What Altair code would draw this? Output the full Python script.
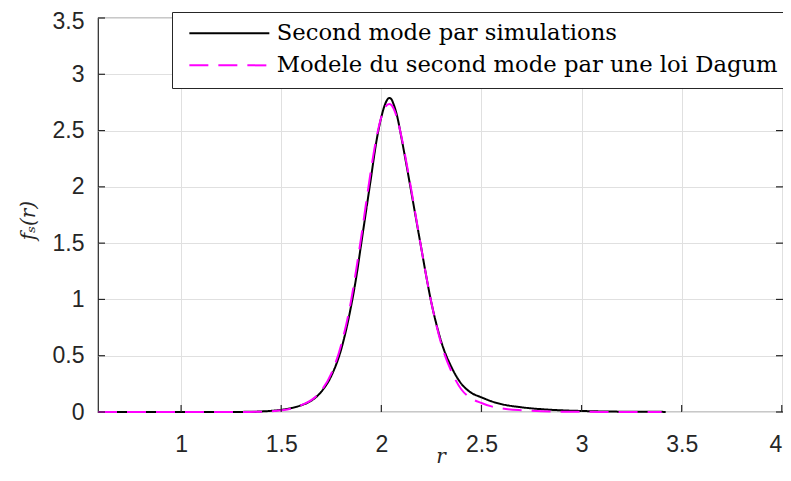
import altair as alt
import pandas as pd

# ---- data ----
label_sim = "Second mode par simulations"
label_dag = "Modele du second mode par une loi Dagum"

r_sim = [0.585, 1.0, 1.3, 1.4, 1.5, 1.55, 1.6, 1.65, 1.7, 1.75, 1.8, 1.85, 1.875, 1.9,
         1.925, 1.95, 1.975, 2.0, 2.02, 2.04, 2.05, 2.06, 2.08, 2.1, 2.125, 2.15, 2.175,
         2.2, 2.225, 2.25, 2.275, 2.3, 2.35, 2.4, 2.45, 2.5, 2.55, 2.6, 2.7, 2.8, 2.9,
         3.0, 3.1, 3.2, 3.3, 3.42]
f_sim = [0.0, 0.0, 0.001, 0.005, 0.02, 0.035, 0.06, 0.10, 0.18, 0.32, 0.56, 0.95, 1.2, 1.5,
         1.8, 2.1, 2.4, 2.62, 2.74, 2.79, 2.78, 2.74, 2.62, 2.44, 2.2, 1.95, 1.7,
         1.45, 1.2, 0.97, 0.78, 0.62, 0.40, 0.25, 0.17, 0.13, 0.095, 0.07, 0.042, 0.025, 0.015,
         0.009, 0.005, 0.003, 0.002, 0.001]

r_dag = [0.585, 1.0, 1.3, 1.4, 1.5, 1.55, 1.6, 1.65, 1.7, 1.75, 1.8, 1.85, 1.875, 1.9,
         1.925, 1.95, 1.975, 2.0, 2.02, 2.04, 2.06, 2.08, 2.1, 2.125, 2.15, 2.175,
         2.2, 2.225, 2.25, 2.275, 2.3, 2.35, 2.4, 2.45, 2.5, 2.55, 2.6, 2.7, 2.8, 2.9,
         3.0, 3.2, 3.4]
f_dag = [0.0, 0.0, 0.0, 0.003, 0.015, 0.03, 0.06, 0.105, 0.19, 0.34, 0.6, 1.0, 1.27, 1.56,
         1.87, 2.17, 2.43, 2.62, 2.71, 2.735, 2.70, 2.60, 2.45, 2.22, 1.97, 1.71,
         1.45, 1.2, 0.97, 0.77, 0.60, 0.36, 0.2, 0.12, 0.08, 0.05, 0.032, 0.015, 0.007, 0.003,
         0.0015, 0.0005, 0.0]

x_ticks = [1, 1.5, 2, 2.5, 3, 3.5, 4]
y_ticks = [0, 0.5, 1, 1.5, 2, 2.5, 3, 3.5]
x_domain = [0.585, 4.006]
y_domain = [0, 3.5]

# ---- chart ----
W, H = 685, 394
AX = "#262626"

sim_df = pd.DataFrame({"r": r_sim, "f": f_sim, "serie": label_sim})
dag_df = pd.DataFrame({"r": r_dag, "f": f_dag, "serie": label_dag})
xt_df = pd.DataFrame({"v": x_ticks})
yt_df = pd.DataFrame({"v": y_ticks})

xs = alt.Scale(domain=x_domain, nice=False, zero=False)
ys = alt.Scale(domain=y_domain, nice=False, zero=False)
cs = alt.Scale(domain=[label_sim, label_dag], range=["#000000", "#ff00ff"])
ds = alt.Scale(domain=[label_sim, label_dag], range=[[1, 0], [19, 10]])

legend = alt.Legend(
    title=None, orient="none", legendX=74, legendY=-6,
    symbolType="M-1,0L7,0", symbolSize=400, symbolStrokeWidth=2,
    labelFont="DejaVu Serif", labelFontSize=22.7, labelColor="black",
    labelLimit=2000, padding=10, rowPadding=8,
    strokeColor=AX, fillColor="white", labelOffset=66, symbolOffset=6,
    cornerRadius=0, direction="vertical",
)

x_axis = alt.Axis(
    values=x_ticks, format="~g", title="r", grid=True, ticks=False, domain=False,
    labelFont="Liberation Sans", labelFontSize=23, labelColor=AX, labelPadding=21,
    labelAlign={"condition": {"test": "datum.value >= 4", "value": "right"}, "value": "center"},
    titleFont="DejaVu Serif", titleFontStyle="italic", titleFontWeight="normal",
    titleFontSize=20, titleColor=AX, titleBaseline="alphabetic", titleY=50,
    gridColor="#e0e0e0", gridWidth=1, labelFlush=False,
)
y_axis = alt.Axis(
    values=y_ticks, format="~g", title="fₛ(r)", grid=True, ticks=False, domain=False,
    labelFont="Liberation Sans", labelFontSize=23, labelColor=AX, labelPadding=14,
    labelOffset={"condition": {"test": "datum.value >= 3.5", "value": 3}, "value": 0},
    titleFont="DejaVu Serif", titleFontStyle="italic", titleFontWeight="normal",
    titleFontSize=20, titleColor=AX, titleAngle=270, titleBaseline="alphabetic",
    titleAlign="center", titleX=-64, titleY=202,
    gridColor="#e0e0e0", gridWidth=1, labelFlush=False,
)

sim = alt.Chart(sim_df).mark_line(strokeWidth=2, interpolate="monotone").encode(
    x=alt.X("r:Q", scale=xs, axis=x_axis),
    y=alt.Y("f:Q", scale=ys, axis=y_axis),
    color=alt.Color("serie:N", scale=cs, legend=legend),
    strokeDash=alt.StrokeDash("serie:N", scale=ds, legend=legend),
)
dag = alt.Chart(dag_df).mark_line(strokeWidth=2, interpolate="monotone").encode(
    x=alt.X("r:Q", scale=xs),
    y=alt.Y("f:Q", scale=ys),
    color=alt.Color("serie:N", scale=cs, legend=legend),
    strokeDash=alt.StrokeDash("serie:N", scale=ds, legend=legend),
)

tk = 7
bot_ticks = alt.Chart(xt_df).mark_rule(color=AX, strokeWidth=1.2).encode(
    x=alt.X("v:Q", scale=xs), y=alt.value(H), y2=alt.value(H - tk))
top_ticks = alt.Chart(xt_df).mark_rule(color=AX, strokeWidth=1.2).encode(
    x=alt.X("v:Q", scale=xs), y=alt.value(0), y2=alt.value(tk))
left_ticks = alt.Chart(yt_df).mark_rule(color=AX, strokeWidth=1.2).encode(
    y=alt.Y("v:Q", scale=ys), x=alt.value(0), x2=alt.value(tk))
right_ticks = alt.Chart(yt_df).mark_rule(color=AX, strokeWidth=1.2).encode(
    y=alt.Y("v:Q", scale=ys), x=alt.value(W), x2=alt.value(W - tk))

chart = alt.layer(sim, dag, bot_ticks, top_ticks, left_ticks, right_ticks).properties(
    width=W, height=H,
    autosize=alt.AutoSizeParams(type="none"),
    padding={"left": 90, "top": 10, "right": 0, "bottom": 56},
    background="white",
).configure_view(stroke=AX, strokeWidth=1.2)

chart.save("out.html", embed_options={"renderer": "svg", "actions": False})
